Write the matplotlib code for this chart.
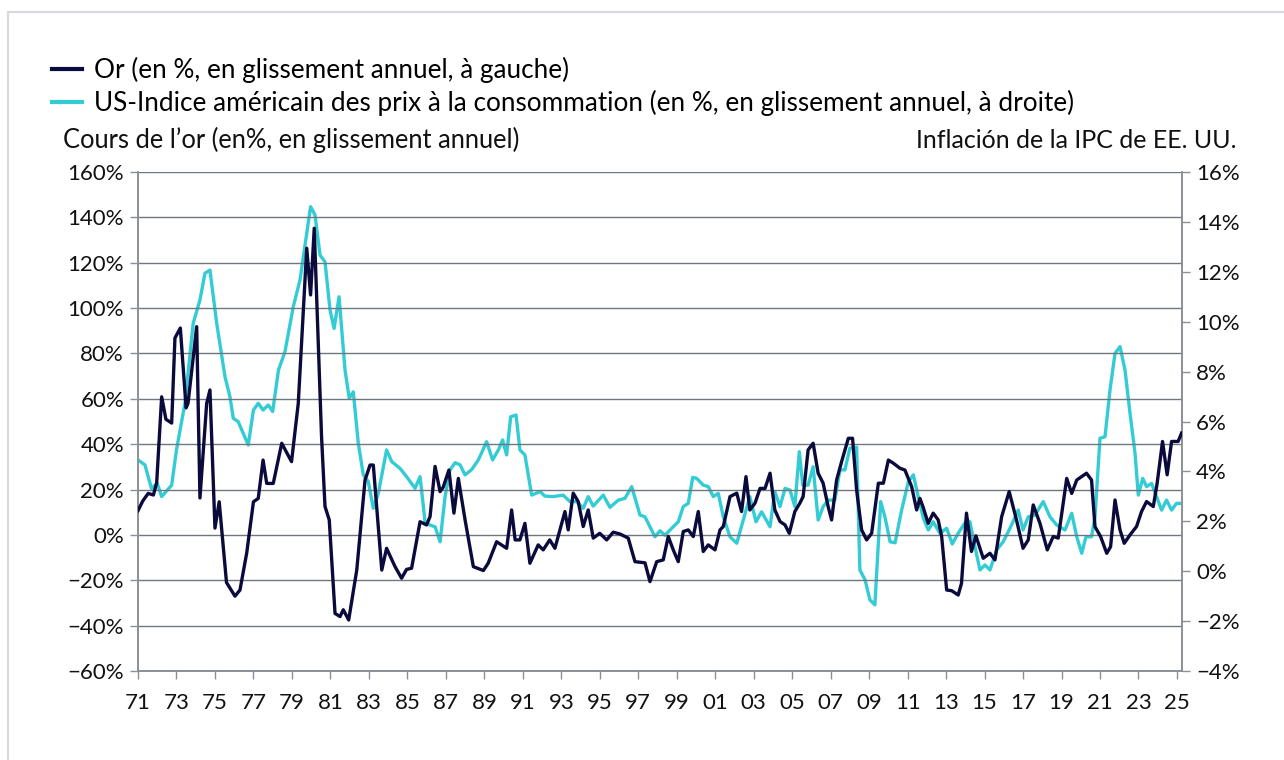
import numpy as np
import matplotlib
matplotlib.use("Agg")
import matplotlib.pyplot as plt
from matplotlib.ticker import FixedLocator, FuncFormatter
from matplotlib.patches import Rectangle

# Gold price, y/y % (left axis)
gold_years = [
    1971.0, 1971.25, 1971.53, 1971.8, 1971.97, 1972.23, 1972.45, 1972.75, 1972.92, 1973.2,
    1973.5, 1973.6, 1974.05, 1974.22, 1974.57, 1974.74, 1975.0, 1975.22, 1975.6, 1976.04,
    1976.3, 1976.65, 1977.0, 1977.25, 1977.5, 1977.69, 1978.03, 1978.47, 1978.98, 1979.33,
    1979.77, 1979.97, 1980.16, 1980.54, 1980.72, 1980.94, 1981.24, 1981.5, 1981.67, 1981.95,
    1982.37, 1982.8, 1983.06, 1983.23, 1983.67, 1983.92, 1984.36, 1984.7, 1984.96, 1985.22,
    1985.66, 1986.0, 1986.18, 1986.44, 1986.7, 1986.86, 1987.16, 1987.42, 1987.65, 1988.0,
    1988.43, 1988.95, 1989.2, 1989.64, 1990.16, 1990.42, 1990.6, 1990.85, 1991.11, 1991.37,
    1991.8, 1992.06, 1992.4, 1992.67, 1993.19, 1993.36, 1993.62, 1993.88, 1994.14, 1994.4,
    1994.66, 1995.0, 1995.36, 1995.7, 1996.05, 1996.48, 1996.83, 1997.35, 1997.61, 1997.96,
    1998.3, 1998.56, 1998.82, 1999.08, 1999.34, 1999.6, 1999.86, 2000.12, 2000.38, 2000.64,
    2000.99, 2001.25, 2001.42, 2001.77, 2002.12, 2002.37, 2002.6, 2002.8, 2003.07, 2003.33,
    2003.59, 2003.85, 2004.1, 2004.37, 2004.63, 2004.85, 2005.14, 2005.4, 2005.57, 2005.83,
    2006.09, 2006.35, 2006.61, 2006.87, 2007.05, 2007.31, 2007.57, 2007.92, 2008.14, 2008.35,
    2008.61, 2008.87, 2009.13, 2009.48, 2009.74, 2010.0, 2010.26, 2010.6, 2010.86, 2011.21,
    2011.47, 2011.64, 2011.8, 2012.07, 2012.33, 2012.59, 2012.77, 2013.03, 2013.29, 2013.63,
    2013.8, 2014.06, 2014.32, 2014.55, 2014.93, 2015.28, 2015.54, 2015.89, 2016.28, 2016.66,
    2017.0, 2017.27, 2017.53, 2017.88, 2018.26, 2018.57, 2018.83, 2019.27, 2019.53, 2019.79,
    2020.05, 2020.3, 2020.56, 2020.74, 2021.03, 2021.35, 2021.55, 2021.78, 2022.04, 2022.26,
    2022.56, 2022.9, 2023.16, 2023.42, 2023.77, 2023.97, 2024.25, 2024.49, 2024.72, 2025.06,
    2025.24,
]
gold_vals = [
    10.7, 15, 18.3, 17.6, 22.9, 60.9, 51, 49.3, 86.8, 91.2,
    56, 58, 91.8, 16.3, 58, 63.9, 3, 14.6, -21, -27,
    -24.3, -8, 14.6, 16.1, 33, 22.7, 22.7, 40.4, 32.3, 58,
    126.4, 105.8, 135.2, 43.3, 12.5, 6.6, -34.6, -36, -33, -37.5,
    -15.5, 24.2, 30.8, 30.8, -15.5, -5.9, -14, -19.1, -15.2, -14.7,
    5.8, 4.4, 8.1, 30.2, 19.1, 21, 28.6, 9.6, 24.9, 6.6,
    -14, -15.7, -12.5, -3, -5.9, 11, -2.2, -2.2, 5.1, -12.5,
    -4.4, -6.6, -2.2, -5.9, 10.3, 2.2, 18.4, 14.7, 3.7, 11,
    -1.4, 0.7, -2.2, 1.2, 0.4, -1.4, -11.8, -12.3, -20.6, -11.8,
    -11, -0.7, -6.6, -11.8, 1.5, 2.2, -0.7, 10.3, -7.3, -4.4,
    -6.6, 2.2, 3.7, 16.9, 18.4, 10.3, 25.7, 11, 14, 20.5,
    20.5, 27.2, 11, 5.9, 4.4, 0.7, 10.3, 14, 16.9, 37.5,
    40.4, 27.2, 22.8, 12.5, 6.6, 24.2, 32.3, 42.6, 42.6, 19.8,
    2.2, -2.2, 0.7, 22.8, 22.8, 33, 31.6, 29.4, 28.6, 21.3,
    11, 16.1, 12.4, 5.1, 9.6, 6.6, -0.7, -24.3, -24.6, -26.5,
    -21.4, 9.6, -7.3, -0.4, -10.3, -8.1, -11, 8.1, 19.1, 6.6,
    -5.9, -2.2, 13.2, 5.1, -6.6, -0.7, -1.4, 24.9, 18.3, 24.2,
    25.7, 27.2, 24.2, 3.6, -0.7, -8.1, -5.2, 15.4, 2.2, -3.7,
    0, 3.7, 10.3, 14.7, 12.5, 22.8, 41.2, 26.5, 41.2, 41.2,
    44.9,
]

# US CPI inflation, y/y % (right axis)
cpi_years = [
    1971.0, 1971.36, 1971.7, 1972.0, 1972.23, 1972.75, 1973.0, 1973.44, 1973.87, 1974.22,
    1974.48, 1974.74, 1975.09, 1975.52, 1975.78, 1975.95, 1976.21, 1976.73, 1977.0, 1977.25,
    1977.5, 1977.77, 1978.0, 1978.3, 1978.64, 1979.07, 1979.42, 1979.77, 1979.97, 1980.2,
    1980.46, 1980.72, 1980.98, 1981.19, 1981.45, 1981.76, 1981.98, 1982.19, 1982.45, 1982.71,
    1982.97, 1983.23, 1983.49, 1983.92, 1984.19, 1984.62, 1984.96, 1985.4, 1985.66, 1985.92,
    1986.18, 1986.44, 1986.7, 1986.96, 1987.22, 1987.48, 1987.74, 1988.0, 1988.35, 1988.69,
    1989.12, 1989.43, 1989.73, 1989.95, 1990.16, 1990.37, 1990.65, 1990.85, 1991.11, 1991.46,
    1991.9, 1992.15, 1992.58, 1993.1, 1993.45, 1993.8, 1994.14, 1994.4, 1994.66, 1995.18,
    1995.53, 1995.97, 1996.31, 1996.66, 1997.09, 1997.35, 1997.87, 1998.13, 1998.39, 1998.74,
    1999.08, 1999.34, 1999.6, 1999.83, 2000.04, 2000.38, 2000.64, 2000.9, 2001.16, 2001.42,
    2001.77, 2002.12, 2002.46, 2002.8, 2003.12, 2003.41, 2003.85, 2004.1, 2004.37, 2004.63,
    2004.89, 2005.14, 2005.37, 2005.55, 2005.83, 2006.09, 2006.35, 2006.61, 2006.87, 2007.22,
    2007.48, 2007.74, 2008.0, 2008.35, 2008.52, 2008.79, 2009.04, 2009.3, 2009.6, 2009.82,
    2010.09, 2010.35, 2010.69, 2011.04, 2011.3, 2011.55, 2011.82, 2012.08, 2012.33, 2012.68,
    2013.03, 2013.32, 2013.63, 2014.07, 2014.24, 2014.5, 2014.76, 2015.02, 2015.28, 2015.63,
    2015.97, 2016.32, 2016.75, 2017.0, 2017.27, 2017.62, 2018.05, 2018.4, 2018.75, 2019.18,
    2019.53, 2019.79, 2020.05, 2020.27, 2020.56, 2020.74, 2021.0, 2021.26, 2021.52, 2021.78,
    2022.04, 2022.3, 2022.56, 2022.82, 2022.99, 2023.22, 2023.42, 2023.68, 2023.94, 2024.2,
    2024.46, 2024.72, 2024.98, 2025.24,
]
cpi_vals = [
    4.46, 4.26, 3.32, 3.52, 2.99, 3.45, 4.86, 6.73, 9.94, 10.87,
    11.94, 12.07, 9.94, 7.8, 6.99, 6.13, 5.99, 5.06, 6.46, 6.73,
    6.46, 6.66, 6.4, 8.06, 8.8, 10.6, 11.67, 13.54, 14.61, 14.28,
    12.67, 12.4, 10.47, 9.73, 11.0, 8.06, 6.93, 7.19, 5.13, 3.86,
    3.59, 2.52, 3.12, 4.86, 4.39, 4.12, 3.79, 3.32, 3.79, 1.98,
    1.85, 1.78, 1.18, 2.99, 4.06, 4.35, 4.26, 3.86, 4.08, 4.46,
    5.19, 4.46, 4.86, 5.26, 4.66, 6.19, 6.26, 4.86, 4.66, 3.05,
    3.19, 3.01, 2.99, 3.05, 2.79, 2.79, 2.52, 2.99, 2.61, 3.05,
    2.56, 2.85, 2.92, 3.39, 2.25, 2.18, 1.38, 1.62, 1.44, 1.72,
    1.98, 2.59, 2.72, 3.76, 3.72, 3.45, 3.39, 2.99, 3.12, 2.18,
    1.38, 1.12, 2.05, 2.99, 1.98, 2.38, 1.78, 3.19, 2.59, 3.32,
    3.25, 2.59, 4.79, 3.45, 3.45, 4.19, 2.05, 2.59, 2.85, 2.85,
    4.06, 4.06, 4.93, 4.97, 0.05, -0.35, -1.15, -1.35, 2.79, 2.18,
    1.18, 1.14, 2.45, 3.59, 3.86, 2.99, 2.12, 1.65, 1.98, 1.52,
    1.72, 1.09, 1.52, 2.05, 1.98, 0.98, 0.05, 0.25, 0.05, 0.85,
    1.18, 1.72, 2.45, 1.65, 2.18, 2.25, 2.79, 2.18, 1.85, 1.65,
    2.32, 1.38, 0.72, 1.38, 1.38, 2.18, 5.33, 5.39, 7.26, 8.73,
    9.0, 8.06, 6.33, 4.73, 3.05, 3.72, 3.39, 3.52, 2.99, 2.45,
    2.85, 2.45, 2.72, 2.72,
]

year_ticks = list(range(1971, 2026, 2))
left_ticks = list(range(-60, 161, 20))
right_ticks = list(range(-4, 17, 2))

legend_gold = "Or (en %, en glissement annuel, à gauche)"
legend_cpi = "US-Indice américain des prix à la consommation (en %, en glissement annuel, à droite)"
left_title = "Cours de l\u2019or (en%, en glissement annuel)"
right_title = "Inflación de la IPC de EE. UU."

NAVY = "#0b0a3c"
CYAN = "#33ccd5"
GRID = "#6e767e"
TEXT = "#111111"

plt.rcParams["font.family"] = ["Lato", "DejaVu Sans"]
plt.rcParams["font.size"] = 16

fig = plt.figure(figsize=(12.84, 7.6), dpi=100)
ax = fig.add_axes([138 / 1284, 1 - 671 / 760, (1182 - 138) / 1284, (671 - 172) / 760])
ax2 = ax.twinx()

# card border
fig.patches.append(Rectangle((8 / 1284, -0.1), 1.2, 1.1 - 12 / 760, transform=fig.transFigure,
                             fill=False, edgecolor="#d6dade", lw=1.5))

ax.set_xlim(1971, 1971 + (1182 - 138) / 19.24)
ax.set_ylim(-60, 160)
ax2.set_ylim(-4, 16)

line_gold, = ax.plot(gold_years, gold_vals, color=NAVY, lw=2.4, solid_joinstyle="round", zorder=3)
line_cpi, = ax2.plot(cpi_years, cpi_vals, color=CYAN, lw=2.4, solid_joinstyle="round", zorder=2)
ax.set_zorder(ax2.get_zorder() + 1)
ax.patch.set_visible(False)


def pct(v, _pos):
    return f"{v:.0f}%".replace("-", "\u2212")


ax.yaxis.set_major_locator(FixedLocator(left_ticks))
ax.yaxis.set_major_formatter(FuncFormatter(pct))
ax2.yaxis.set_major_locator(FixedLocator(right_ticks))
ax2.yaxis.set_major_formatter(FuncFormatter(pct))
ax.xaxis.set_major_locator(FixedLocator(year_ticks))
ax.xaxis.set_major_formatter(FuncFormatter(lambda v, _p: f"{int(round(v)) % 100:02d}"))

ax.grid(axis="y", color=GRID, lw=1)
ax.grid(axis="x", visible=False)

for a in (ax, ax2):
    a.spines["top"].set_visible(False)
    for side in ("left", "right", "bottom"):
        a.spines[side].set_color("#8a9097")
        a.spines[side].set_linewidth(1.2)
    a.tick_params(axis="both", colors="#8a9097", labelcolor=TEXT, labelsize=16, length=6, width=1, pad=4)

ax.tick_params(axis="x", pad=10)

fig.text(63 / 1284, 1 - 140 / 760, left_title, fontsize=18.4, color=TEXT, ha="left", va="center")
fig.text(1237 / 1284, 1 - 140 / 760, right_title, fontsize=18, color=TEXT, ha="right", va="center")

fig.legend([line_gold, line_cpi], [legend_gold, legend_cpi], loc="upper left",
           bbox_to_anchor=(52 / 1284, 1 - 57 / 760), frameon=False, fontsize=18.8,
           handlelength=1.15, handletextpad=0.45, labelspacing=0.25, borderaxespad=0,
           borderpad=0)
for lh in fig.legends[0].get_lines():
    lh.set_linewidth(3)

fig.savefig("out.png", dpi=100)
